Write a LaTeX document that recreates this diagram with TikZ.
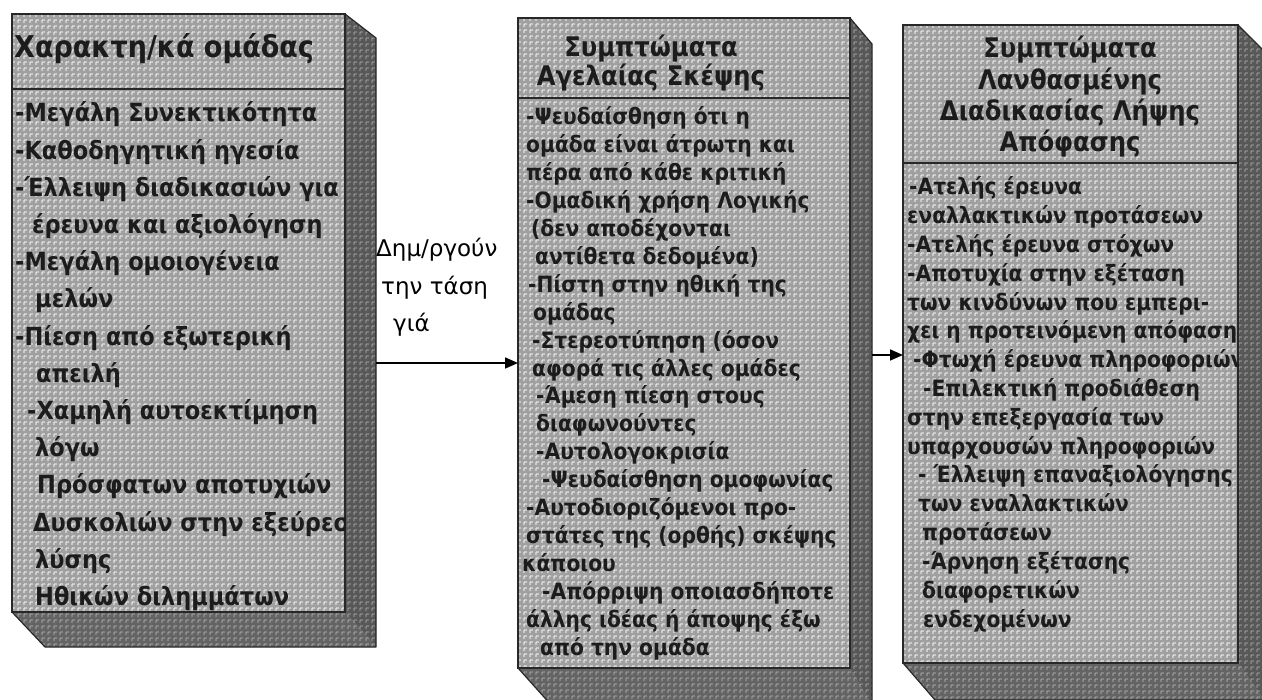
\documentclass[tikz,border=0pt]{standalone}
\usepackage{fontspec}
\setmainfont{DejaVu Sans}
\newfontfamily\heavy{DejaVu Sans Condensed Bold}
\usetikzlibrary{arrows.meta}
\definecolor{facegray}{RGB}{160,160,160}
\definecolor{sidegray}{RGB}{88,88,88}
\definecolor{botgray}{RGB}{100,100,100}
\definecolor{edgegray}{RGB}{40,40,40}
\definecolor{inkgray}{RGB}{28,28,28}
% x1,y1,x2,y2,dxr,dyt,dxb,dyb
\newcommand\sidefaces[8]{%
  \fill[botgray] (#1,#4) -- (#1+#7,#4+#8) -- (#3+#5,#4+#8) -- (#3,#4) -- cycle;
  \fill[sidegray] (#3,#2) -- (#3+#5,#2+#6) -- (#3+#5,#4+#8) -- (#3,#4) -- cycle;
  \begin{scope}
    \clip (#1,#4) -- (#1+#7,#4+#8) -- (#3+#5,#4+#8) -- (#3+#5,#2+#6) -- (#3,#2) -- cycle;
    \foreach \k in {0,...,100} {\draw[tex, opacity=.2] (#1+6*\k,#2) -- (#1+6*\k,#4+#8);}
    \foreach \k in {0,...,115} {\draw[tex, opacity=.2] (#1,#2+6*\k) -- (#3+#5,#2+6*\k);}
  \end{scope}
  \draw[edgegray, line width=1.2, line join=round] (#1,#4) -- (#1+#7,#4+#8) -- (#3+#5,#4+#8) -- (#3+#5,#2+#6) -- (#3,#2);
}
% x1,y1,x2,y2
\newcommand\facetexture[4]{%
  \begin{scope}
    \clip (#1,#2) rectangle (#3,#4);
    \foreach \k in {0,...,60} {\draw[tex] (#1+6*\k,#2) -- (#1+6*\k,#4);}
    \foreach \k in {0,...,110} {\draw[tex] (#1,#2+6*\k) -- (#3,#2+6*\k);}
  \end{scope}
  \draw[edgegray, line width=1.5] (#1,#2) rectangle (#3,#4);
}
\begin{document}
\begin{tikzpicture}[x=1pt,y=-1pt,
  front/.style={fill=facegray, inner sep=0pt, outer sep=0pt, anchor=north west},
  tex/.style={white, opacity=.45, line width=1.1, dash pattern=on 3pt off 3pt},
  sep/.style={draw=edgegray, line width=2},
  bodyA/.style={font=\heavy\fontsize{25}{30}\selectfont, text=inkgray, inner sep=0pt, anchor=base west},
  bodyB/.style={font=\heavy\fontsize{22.5}{27}\selectfont, text=inkgray, inner sep=0pt, anchor=base west},
  headA/.style={font=\heavy\fontsize{30}{34}\selectfont, text=inkgray, inner sep=0pt, anchor=base west},
  headB/.style={font=\heavy\fontsize{27}{30}\selectfont, text=inkgray, inner sep=0pt, anchor=base},
  lab/.style={font=\fontsize{23}{28}\selectfont, text=black, inner sep=0pt, anchor=base west},
  arr/.style={line width=1.6, black, -{Triangle[length=13pt,width=11pt]}}
]
\useasboundingbox (0,0) rectangle (1262,700);
\fill[white] (0,0) rectangle (1262,700);

% ---------- box 1 ----------
\sidefaces{12}{14}{345}{612}{31}{24}{33}{35}
\node[front, minimum width=333pt, minimum height=598pt] (b1) at (12,14) {};
\facetexture{12}{14}{345}{612}
\draw[sep] (12,89) -- (345,89);
\begin{scope}
  \clip (12,14) rectangle (345,612);
  \node[headA] (h1) at (14,58) {Χαρακτη/κά ομάδας};
  \foreach \dx/\t [count=\i from 0] in {
    0/{-Μεγάλη Συνεκτικότητα},
    0/{-Καθοδηγητική ηγεσία},
    0/{-Έλλειψη διαδικασιών για},
    17/{έρευνα και αξιολόγηση},
    0/{-Μεγάλη ομοιογένεια},
    20/{μελών},
    0/{-Πίεση από εξωτερική},
    21/{απειλή},
    12/{-Χαμηλή αυτοεκτίμηση},
    20/{λόγω},
    22/{Πρόσφατων αποτυχιών},
    18/{Δυσκολιών στην εξεύρεση},
    20/{λύσης},
    20/{Ηθικών διλημμάτων}}
    {\node[bodyA] (b1l\i) at (15+\dx,122+37.2*\i) {\t};}
\end{scope}

% ---------- box 2 ----------
\sidefaces{518}{18}{850}{668}{22}{26}{34}{38}
\node[front, minimum width=332pt, minimum height=650pt] (b2) at (518,18) {};
\facetexture{518}{18}{850}{668}
\draw[sep] (518,98) -- (850,98);
\begin{scope}
  \clip (518,18) rectangle (850,668);
  \node[headB] (h2a) at (651,57) {Συμπτώματα};
  \node[headB] (h2b) at (651,86) {Αγελαίας Σκέψης};
  \foreach \dx/\t [count=\i from 0] in {
    0/{-Ψευδαίσθηση ότι η},
    0/{ομάδα είναι άτρωτη και},
    0/{πέρα από κάθε κριτική},
    0/{-Ομαδική χρήση Λογικής},
    5/{(δεν αποδέχονται},
    9/{αντίθετα δεδομένα)},
    2/{-Πίστη στην ηθική της},
    7/{ομάδας},
    6/{-Στερεοτύπηση (όσον},
    6/{αφορά τις άλλες ομάδες},
    10/{-Άμεση πίεση στους},
    10/{διαφωνούντες},
    10/{-Αυτολογοκρισία},
    16/{-Ψευδαίσθηση ομοφωνίας},
    0/{-Αυτοδιοριζόμενοι προ-},
    0/{στάτες της (ορθής) σκέψης},
    -4/{κάποιου},
    16/{-Απόρριψη οποιασδήποτε},
    0/{άλλης ιδέας ή άποψης έξω},
    14/{από την ομάδα}}
    {\node[bodyB] (b2l\i) at (526+\dx,125+27.9*\i) {\t};}
\end{scope}

% ---------- box 3 ----------
\sidefaces{903}{25}{1238}{663}{26}{26}{32}{37}
\node[front, minimum width=335pt, minimum height=638pt] (b3) at (903,25) {};
\facetexture{903}{25}{1238}{663}
\draw[sep] (903,163) -- (1238,163);
\begin{scope}
  \clip (903,25) rectangle (1238,663);
  \node[headB] (h3a) at (1070,58) {Συμπτώματα};
  \node[headB] (h3b) at (1070,90) {Λανθασμένης};
  \node[headB] (h3c) at (1070,121) {Διαδικασίας Λήψης};
  \node[headB] (h3d) at (1070,152) {Απόφασης};
  \foreach \dx/\t [count=\i from 0] in {
    2/{-Ατελής έρευνα},
    0/{εναλλακτικών προτάσεων},
    0/{-Ατελής έρευνα στόχων},
    0/{-Αποτυχία στην εξέταση},
    0/{των κινδύνων που εμπερι-},
    0/{χει η προτεινόμενη απόφαση},
    6/{-Φτωχή έρευνα πληροφοριών},
    16/{-Επιλεκτική προδιάθεση},
    0/{στην επεξεργασία των},
    0/{υπαρχουσών πληροφοριών},
    11/{- Έλλειψη επαναξιολόγησης},
    11/{των εναλλακτικών},
    15/{προτάσεων},
    15/{-Άρνηση εξέτασης},
    15/{διαφορετικών},
    16/{ενδεχομένων}}
    {\node[bodyB] (b3l\i) at (907+\dx,195+28.8*\i) {\t};}
\end{scope}

% ---------- connectors ----------
\node[lab] (lab1) at (376,257) {Δημ/ργούν};
\node[lab] (lab2) at (381,295) {την τάση};
\node[lab] (lab3) at (393,332) {γιά};
\coordinate (s1) at (376,363);
\draw[arr] (s1) -- (b2.west |- s1);
\coordinate (s2) at (872,355);
\draw[arr] (s2) -- (b3.west |- s2);
\end{tikzpicture}
\end{document}
